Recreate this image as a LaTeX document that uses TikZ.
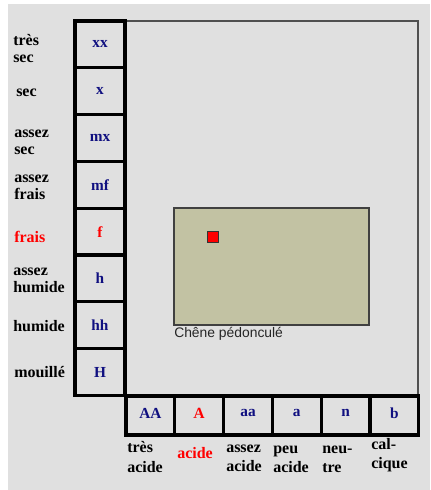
\documentclass[tikz,border=0pt]{standalone}
\usepackage{fontspec}
\setmainfont{Liberation Serif}
\setsansfont{Liberation Sans}
\begin{document}
\begin{tikzpicture}[x=0.75pt,y=-0.75pt,
  cellbox/.style={draw=black,line width=2.3pt,fill=bgray},
  celltxt/.style={inner sep=0pt,font=\fontsize{11.5}{13}\selectfont\bfseries,text=navy},
  lbl/.style={inner sep=0pt,anchor=west,align=left,font=\fontsize{12}{13}\selectfont\bfseries,text=black},
  blbl/.style={lbl,font=\fontsize{12}{14.5}\selectfont\bfseries},
  redtxt/.style={text=red}]
\definecolor{bgray}{HTML}{E0E0E0}
\definecolor{navy}{HTML}{101080}
\definecolor{olive}{HTML}{C2C2A3}
\definecolor{frame}{HTML}{505050}
\useasboundingbox (0,0) rectangle (430,490);
\fill[white] (0,0) rectangle (430,490);
\fill[bgray] (8,4) rectangle (430,490);
% main panel
\draw[frame,line width=1.1pt,fill=bgray] (126,21) rectangle (418,395);
% left column cells
\foreach \t [count=\i from 0] in {xx,x,mx,mf,f,h,hh,H}{
  \pgfmathsetmacro{\ya}{21+46.8*\i}
  \pgfmathsetmacro{\yb}{21+46.8*(\i+1)}
  \draw[cellbox] (75,\ya) rectangle (125,\yb);
  \node[celltxt] (c\i) at (100,{(\ya+\yb)/2}) {\t};
}
\node[celltxt,text=red,fill=bgray] at (c4) {f};
% bottom row cells
\foreach \t [count=\i from 0] in {AA,A,aa,a,n,b}{
  \pgfmathsetmacro{\xa}{126+48.8*\i}
  \pgfmathsetmacro{\xb}{126+48.8*(\i+1)}
  \draw[cellbox] (\xa,396) rectangle (\xb,435);
  \node[celltxt] (r\i) at ({(\xa+\xb)/2},413) {\t};
}
\node[celltxt,text=red,fill=bgray] at (r1) {A};
% olive box
\draw[draw=frame!80!black,line width=0.9pt,fill=olive] (174,208) rectangle (369,325);
\draw[draw=black!80,line width=0.7pt,fill=red] (207,231) rectangle (218,242);
\node[inner sep=0pt,anchor=west,font=\sffamily\fontsize{10.4}{12}\selectfont,text=black!85] (chene) at (174,334) {Chêne pédonculé};
% left labels
\node[lbl] (l0) at (13,48.5) {très\\sec};
\node[lbl] (l1) at (16,93) {sec};
\node[lbl] (l2) at (14,142) {assez\\sec};
\node[lbl] (l3) at (14,187) {assez\\frais};
\node[lbl,redtxt] (l4) at (14,237) {frais};
\node[lbl] (l5) at (13,280) {assez\\humide};
\node[lbl] (l6) at (13,326) {humide};
\node[lbl] (l7) at (14,372) {mouillé};
% bottom labels
\node[blbl] (b0) at (127,457) {très\\acide};
\node[blbl,redtxt] (b1) at (177,453) {acide};
\node[blbl] (b2) at (226,458) {assez\\acide};
\node[blbl] (b3) at (273,459) {peu\\acide};
\node[blbl] (b4) at (322,459) {neu-\\tre};
\node[blbl] (b5) at (371,455) {cal-\\cique};
\end{tikzpicture}
\end{document}
